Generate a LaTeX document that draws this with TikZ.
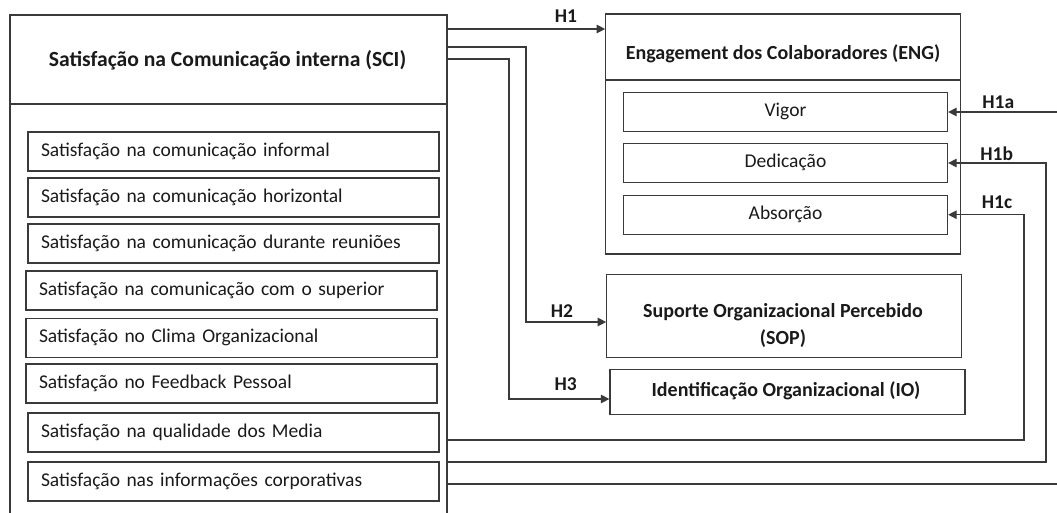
\documentclass[tikz,border=0pt]{standalone}
\usepackage{fontspec}
\setmainfont{Carlito}
\usetikzlibrary{arrows.meta}
\definecolor{ln}{HTML}{3A3A3A}
\definecolor{tx}{HTML}{1A1A1A}
\newcommand\myfs{\fontsize{19.5pt}{23pt}\selectfont}
\newcommand\myfb{\fontsize{20pt}{24pt}\selectfont\bfseries}
\newcommand\myfbig{\fontsize{21.6pt}{26pt}\selectfont\bfseries}
\begin{document}
\begin{tikzpicture}[x=1pt,y=-1pt,
  every node/.style={font=\myfs, text=tx},
  box/.style={draw=ln, line width=1.3pt, rectangle, inner sep=0pt},
  item/.style={box, minimum width=411pt, minimum height=39pt, text width=385pt, align=left, inner xsep=13pt, inner ysep=0pt, text height=13pt, text depth=4pt},
  sub/.style={box, minimum width=324pt, minimum height=39pt, text height=13pt, text depth=4pt},
  conn/.style={draw=ln, line width=1.3pt, -{Triangle[length=8.5pt,width=8.5pt]}},
  wire/.style={draw=ln, line width=1.3pt},
  lbl/.style={font=\myfs\bfseries, inner sep=0pt, anchor=base},
  ttl/.style={font=\myfb, inner sep=0pt, anchor=base}
]
\useasboundingbox (0,0) rectangle (1057,512);
\clip (0,0) rectangle (1057,512);
\fill[white] (0,0) rectangle (1057,512);

% SCI block
\node[box, minimum width=437pt, minimum height=515pt] (sci) at (228.5,272.5) {};
\node[ttl, font=\myfbig] (scit) at (227.5,66) {Satisfação na Comunicação interna (SCI)};
\draw[wire] (sci.west |- 0,104) -- (sci.east |- 0,104);

\node[item] (i1) at (233.5,151.5) {Satisfação na comunicação informal};
\node[item] (i2) at (233.5,197.5) {Satisfação na comunicação horizontal};
\node[item] (i3) at (233.5,243.5) {Satisfação na comunicação durante reuniões};
\node[item] (i4) at (231.5,290.5) {Satisfação na comunicação com o superior};
\node[item] (i5) at (231.5,338) {Satisfação no Clima Organizacional};
\node[item] (i6) at (231.5,383.5) {Satisfação no Feedback Pessoal};
\node[item] (i7) at (233.5,432.5) {Satisfação na qualidade dos Media};
\node[item] (i8) at (233.5,481.5) {Satisfação nas informações corporativas};

% ENG block
\node[box, minimum width=355pt, minimum height=240pt] (eng) at (783.3,134) {};
\node[ttl] (engt) at (783,59) {Engagement dos Colaboradores (ENG)};
\draw[wire] (eng.west |- 0,80) -- (eng.east |- 0,80);
\node[sub] (vig) at (785.5,112) {Vigor};
\node[sub] (ded) at (785.5,163) {Dedicação};
\node[sub] (abs) at (785.5,214.7) {Absorção};

% SOP
\node[box, minimum width=355pt, minimum height=83pt] (sop) at (784.3,315.7) {};
\node[ttl] (sop1) at (783,317) {Suporte Organizacional Percebido};
\node[ttl] (sop2) at (783,344.5) {(SOP)};

% IO
\node[box, minimum width=355pt, minimum height=45pt] (io) at (787.5,391.8) {};
\node[ttl] (iot) at (786,396) {Identificação Organizacional (IO)};

% connectors
\draw[conn] (sci.east |- 0,29) -- (eng.west |- 0,29);
\draw[conn] (sci.east |- 0,47) -- (526,47) |- (sop.west |- 0,322);
\draw[conn] (sci.east |- 0,59) -- (509,59) |- (io.west |- 0,399);
\draw[conn] (sci.east |- 0,484) -- (1075,484) |- (vig.east);
\draw[conn] (sci.east |- 0,462) -- (1046,462) |- (ded.east);
\draw[conn] (sci.east |- 0,440) -- (1024,440) |- (abs.east);

% labels
\node[lbl] (h1) at (566,22.7) {H1};
\node[lbl] (h2) at (562,317.3) {H2};
\node[lbl] (h3) at (565.7,390.7) {H3};
\node[lbl] (h1a) at (998.3,108) {H1a};
\node[lbl] (h1b) at (996.7,160) {H1b};
\node[lbl] (h1c) at (997,208.3) {H1c};
\end{tikzpicture}
\end{document}
